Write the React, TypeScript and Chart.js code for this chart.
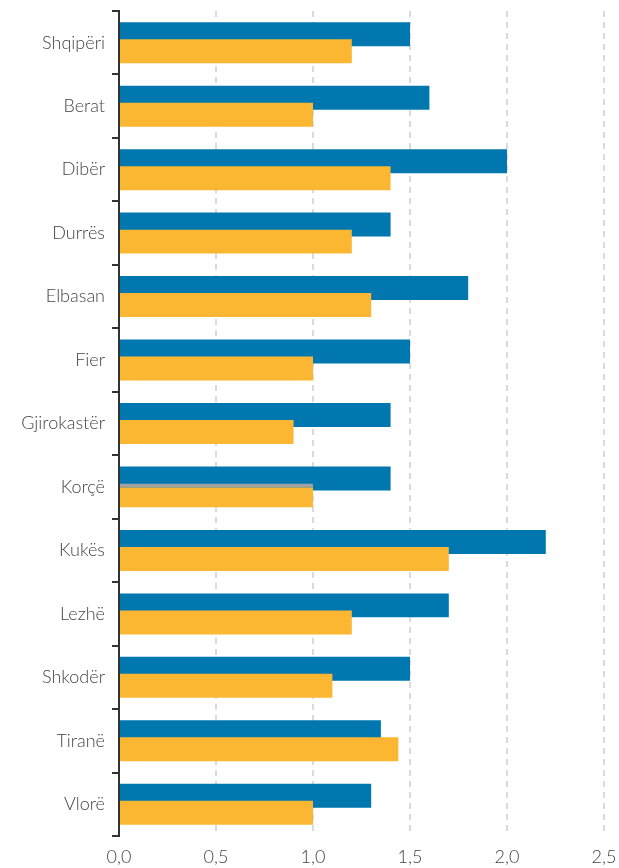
import React, { useEffect, useRef } from "react";
import { Chart, registerables } from "chart.js";

Chart.register(...registerables);

const categories = [
  "Shqipëri", "Berat", "Dibër", "Durrës", "Elbasan", "Fier", "Gjirokastër",
  "Korçë", "Kukës", "Lezhë", "Shkodër", "Tiranë", "Vlorë",
];
const blueValues = [1.5, 1.6, 2.0, 1.4, 1.8, 1.5, 1.4, 1.4, 2.2, 1.7, 1.5, 1.35, 1.3];
const yellowValues = [1.2, 1.0, 1.4, 1.2, 1.3, 1.0, 0.9, 1.0, 1.7, 1.2, 1.1, 1.44, 1.0];
const xTicks = [0, 0.5, 1.0, 1.5, 2.0, 2.5];
const markedCategory = "Korçë";

const FONT = "Lato, 'Open Sans', sans-serif";

export default function App() {
  const ref = useRef<HTMLCanvasElement | null>(null);
  useEffect(() => {
    if (!ref.current) return;
    const chart = new Chart(ref.current, {
      type: "bar",
      data: {
        labels: categories,
        datasets: [
          {
            label: "_slot",
            data: categories.map(() => null),
            stack: "top",
            backgroundColor: "rgba(0,0,0,0)",
          },
          {
            label: "Yellow",
            data: yellowValues,
            stack: "bottom",
            backgroundColor: "#FBB732",
            borderColor: "#A2A2A2",
            borderSkipped: "start",
            borderWidth: (ctx: any) =>
              categories[ctx.dataIndex] === markedCategory
                ? { top: 4, left: 0, right: 0, bottom: 0 }
                : 0,
          },
          {
            label: "Blue",
            data: blueValues,
            stack: "top",
            backgroundColor: "#0077AE",
          },
        ] as any,
      },
      options: {
        indexAxis: "y",
        responsive: false,
        animation: false,
        maintainAspectRatio: false,
        layout: { padding: { top: 11, right: 15, left: 0, bottom: 0 } },
        datasets: {
          bar: { categoryPercentage: 0.536, barPercentage: 1.41 },
        } as any,
        plugins: {
          legend: { display: false },
          tooltip: { enabled: false },
        },
        scales: {
          x: {
            min: 0,
            max: 2.5,
            afterBuildTicks: (scale: any) => {
              scale.ticks = xTicks.map((v) => ({ value: v }));
            },
            afterFit: (scale: any) => {
              scale.height = 32;
              scale.paddingRight = 0;
              scale.paddingLeft = 0;
            },
            border: { display: false, dash: [6, 5] },
            grid: {
              color: "#DADADA",
              lineWidth: 2,
              drawTicks: false,
            } as any,
            ticks: {
              padding: 10,
              color: "#444",
              font: { family: FONT, size: 18, weight: "300" },
              callback: (v: any) => Number(v).toFixed(1).replace(".", ","),
            },
          },
          y: {
            afterFit: (scale: any) => {
              scale.width = 119;
              scale.paddingTop = 0;
              scale.paddingBottom = 0;
            },
            border: { display: true, color: "#333", width: 2 },
            grid: {
              drawOnChartArea: false,
              color: "#333",
              lineWidth: 2,
              tickLength: 7,
            },
            ticks: {
              padding: 7,
              color: "#444",
              font: { family: FONT, size: 18, weight: "300" },
            },
          },
        },
      },
    });
    return () => chart.destroy();
  }, []);
  return (
    <div style={{ position: "absolute", left: 0, top: 0, width: 619, height: 868 }}>
      <canvas ref={ref} width={619} height={868} style={{ display: "block" }} />
    </div>
  );
}
